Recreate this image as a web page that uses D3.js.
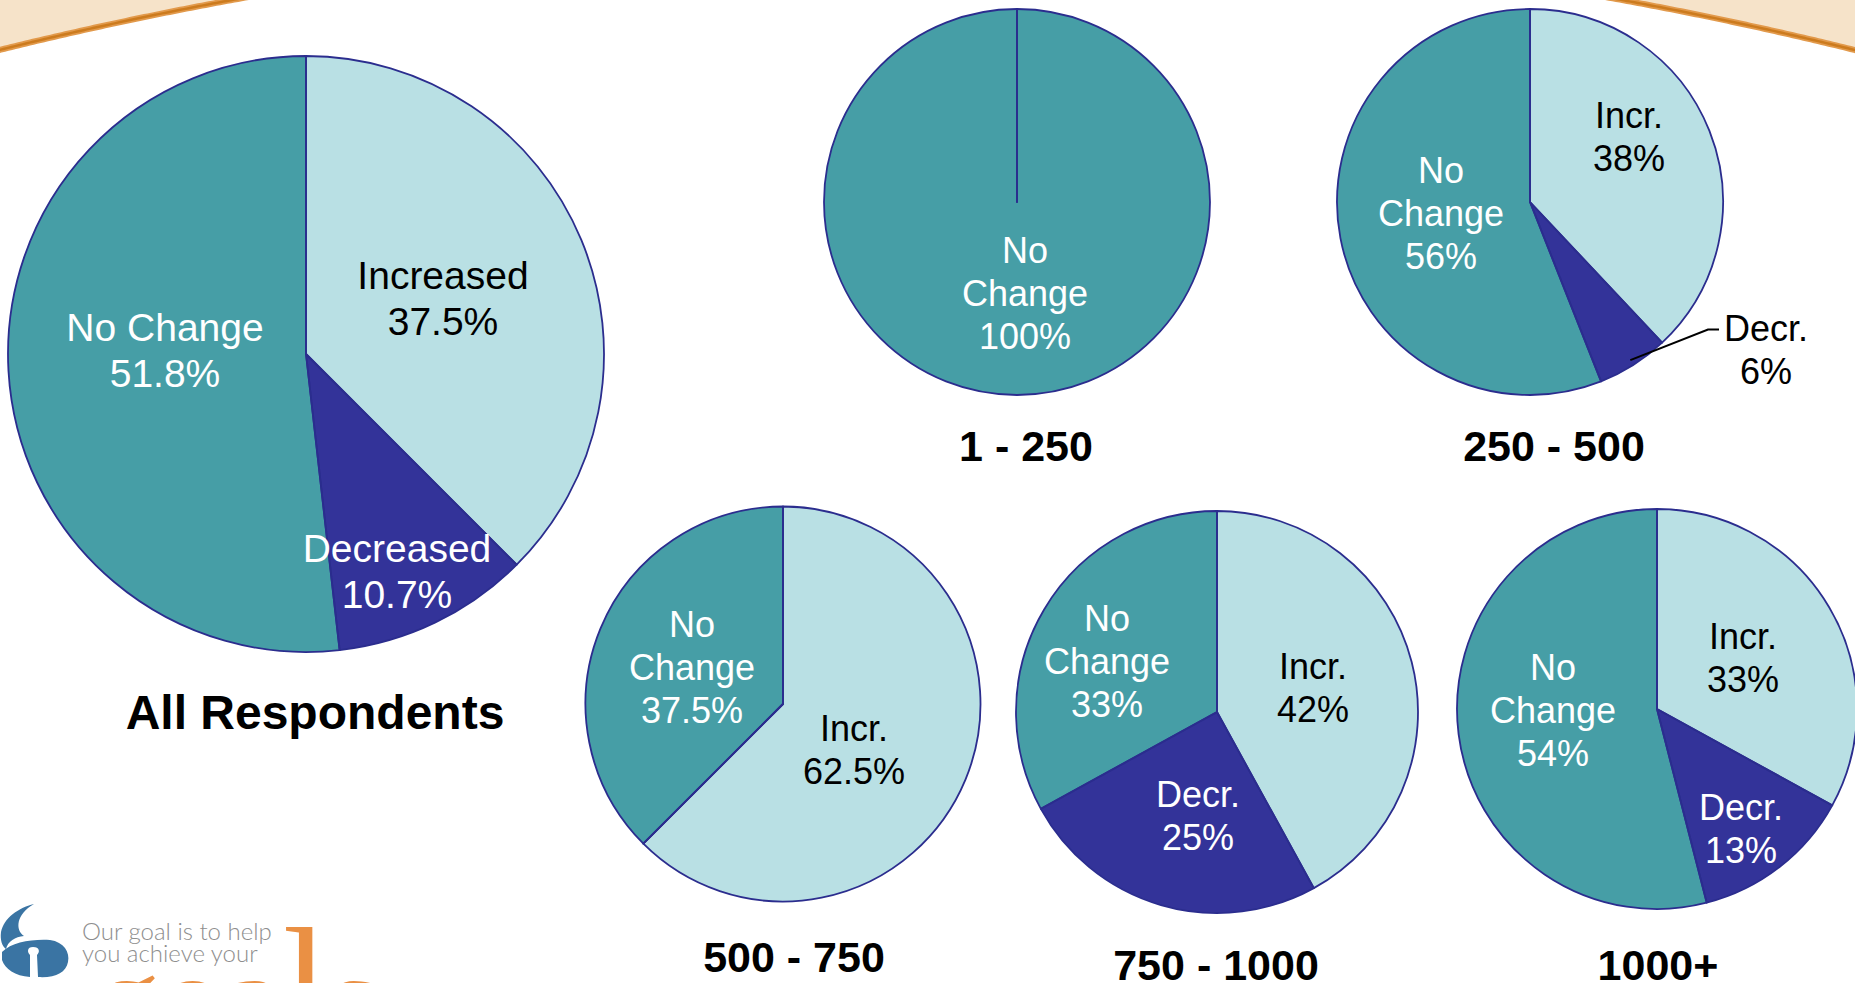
<!DOCTYPE html>
<html><head><meta charset="utf-8">
<script src="https://cdn.jsdelivr.net/npm/d3@7"></script>
<style>html,body{margin:0;padding:0;background:#fff;overflow:hidden}svg{display:block}</style>
</head><body>
<svg id="chart" width="1855" height="983"></svg>
<script>
// ---------- DATA ----------
const groups      = ["All Respondents", "1 - 250", "250 - 500", "500 - 750", "750 - 1000", "1000+"];
const categories  = ["Increased", "Decreased", "No Change"];
const shortNames  = ["Incr.", "Decr.", "No\nChange"];
const increased   = [37.5, 0, 38, 62.5, 42, 33];
const decreased   = [10.7, 0, 6, 0, 25, 13];
const noChange    = [51.8, 100, 56, 37.5, 33, 54];

// ---------- LAYOUT / STYLE ----------
const W = 1855, H = 983;
const FONT = "'Liberation Sans', Arial, Helvetica, sans-serif";
const colors = {"Increased": "#B9E0E4", "Decreased": "#333399", "No Change": "#469EA6"};
const outline = "#2B2D8E";
const pieLayout = [
  {cx: 306,  cy: 354, r: 298,   font: 39, line: 46, tx: 315,  ty: 729, tsize: 48, big: true,
   lab: [[137, -56], [91, 217], [-141, -4]]},
  {cx: 1017, cy: 202, r: 193,   font: 36, line: 43, tx: 1026, ty: 461, tsize: 43,
   lab: [null, null, [8, 91]]},
  {cx: 1530, cy: 202, r: 193,   font: 36, line: 43, tx: 1554, ty: 461, tsize: 43,
   lab: [[99, -65], [236, 148], [-89, 11]], outside: [false, true, false]},
  {cx: 783,  cy: 704, r: 197.5, font: 36, line: 43, tx: 794,  ty: 972, tsize: 43,
   lab: [[71, 46], null, [-91, -37]]},
  {cx: 1217, cy: 712, r: 201,   font: 36, line: 43, tx: 1216, ty: 980, tsize: 43,
   lab: [[96, -24], [-19, 104], [-110, -51]]},
  {cx: 1657, cy: 709, r: 200,   font: 36, line: 43, tx: 1658, ty: 980, tsize: 43,
   lab: [[86, -51], [84, 120], [-104, 1]]}
];

const svg = d3.select("#chart");

// ---------- BACKGROUND DECORATION (large arc across the top) ----------
const bgC = {x: 927, y: 3802, r: 3865};
const yOn = x => bgC.y - Math.sqrt(bgC.r * bgC.r - (x - bgC.x) * (x - bgC.x));
function cornerPts(x0, x1) {
  const pts = [];
  const n = 80;
  for (let k = 0; k <= n; k++) {
    const x = x0 + (x1 - x0) * k / n;
    pts.push([x, yOn(x)]);
  }
  return pts;
}
const dxTop = Math.sqrt(bgC.r * bgC.r - (bgC.y + 8) * (bgC.y + 8));
const leftPts = cornerPts(-10, bgC.x - dxTop);
const rightPts = cornerPts(bgC.x + dxTop, W + 10);
svg.append("path").attr("d", d3.line()([[-10, -10]].concat(leftPts, [[bgC.x - dxTop, -10]])) + "Z")
  .attr("fill", "#F6E3C9");
svg.append("path").attr("d", d3.line()([[bgC.x + dxTop, -10]].concat(rightPts, [[W + 10, -10]])) + "Z")
  .attr("fill", "#F6E3C9");
[leftPts, rightPts].forEach(p => {
  svg.append("path").attr("d", d3.line()(p)).attr("fill", "none")
    .attr("stroke", "#E29A4C").attr("stroke-width", 6);
  svg.append("path").attr("d", d3.line()(p)).attr("fill", "none")
    .attr("stroke", "#CC7B1E").attr("stroke-width", 2.5);
});

// ---------- PIES ----------
const pie = d3.pie().sort(null).value(d => d.value);
const fmt = v => (Number.isInteger(v) ? v : v.toFixed(1)) + "%";

groups.forEach((g, i) => {
  const L = pieLayout[i];
  const data = [
    {cat: categories[0], value: increased[i]},
    {cat: categories[1], value: decreased[i]},
    {cat: categories[2], value: noChange[i]}
  ];
  const arcs = pie(data);
  const arc = d3.arc().innerRadius(0).outerRadius(L.r);
  const gp = svg.append("g").attr("transform", `translate(${L.cx},${L.cy})`);
  gp.selectAll("path.slice").data(arcs).join("path")
    .attr("class", "slice")
    .attr("d", arc)
    .attr("fill", d => colors[d.data.cat]);
  gp.selectAll("path.edge").data(arcs).join("path")
    .attr("class", "edge")
    .attr("d", arc)
    .attr("fill", "none")
    .attr("stroke", outline).attr("stroke-width", 1.8).attr("stroke-linejoin", "round");

  // labels
  arcs.forEach((a, k) => {
    const off = L.lab[k];
    if (!off) return;
    const name = L.big ? categories[k] : shortNames[k];
    const lines = name.split("\n").concat([fmt(a.data.value)]);
    const isOutside = L.outside && L.outside[k];
    const fill = isOutside ? "#000" : (a.data.cat === "Increased" ? "#000" : "#fff");
    const n = lines.length;
    const capH = L.font * 0.716;
    const x = off[0], yc = off[1];
    const firstBase = yc - (n - 1) * L.line / 2 + capH / 2;
    const t = gp.append("text")
      .attr("text-anchor", "middle")
      .attr("font-family", FONT).attr("font-size", L.font)
      .attr("fill", fill);
    lines.forEach((ln, j) => {
      t.append("tspan").attr("x", x).attr("y", firstBase + j * L.line).text(ln);
    });
    if (isOutside) {
      const mid = (a.startAngle + a.endAngle) / 2;
      const p0 = [Math.sin(mid) * L.r * 0.97, -Math.cos(mid) * L.r * 0.97];
      const labelLeft = x - 47;
      const yLine = firstBase - capH / 2 + 1;
      gp.append("path")
        .attr("d", d3.line()([p0, [labelLeft - 11, yLine], [labelLeft, yLine]]))
        .attr("fill", "none").attr("stroke", "#000").attr("stroke-width", 2);
    }
  });

  // group title
  svg.append("text")
    .attr("x", L.tx).attr("y", L.ty)
    .attr("text-anchor", "middle")
    .attr("font-family", FONT).attr("font-weight", "bold").attr("font-size", L.tsize)
    .attr("fill", "#000").text(g);
});

// ---------- LOGO ----------
const logo = svg.append("g");
logo.append("path")
  .attr("d", "M34,904 C18,908 4,918 1,932 C0,940 2,946 6,949 C8,941 15,937 24,936 C15,930 16,914 34,904 Z")
  .attr("fill", "#3A74A3");
logo.append("path")
  .attr("d", "M2,952 C12,942 32,939 50,940 C64,942 70,952 68,962 C66,973 55,978 38,977 L37,955 C40,952 40,947 33,947 C27,947 27,952 30,955 L30,977 C15,976 5,969 2,960 Z")
  .attr("fill", "#3A74A3");
logo.append("text").attr("x", 82).attr("y", 940)
  .attr("font-family", "Lato, 'Open Sans', sans-serif").attr("font-weight", 300)
  .attr("font-size", 24).attr("fill", "#8E8E8E").text("Our goal is to help");
logo.append("text").attr("x", 82).attr("y", 962)
  .attr("font-family", "Lato, 'Open Sans', sans-serif").attr("font-weight", 300)
  .attr("font-size", 24).attr("fill", "#8E8E8E").text("you achieve your");
const goals = logo.append("text").attr("x", 95).attr("y", 1042)
  .attr("font-family", "'Liberation Serif', 'DejaVu Serif', serif")
  .attr("font-size", 130).attr("fill", "#EA9044");
goals.append("tspan").text("goa");
goals.append("tspan").attr("font-size", 165).text("l");
goals.append("tspan").text("s");
</script>
</body></html>
